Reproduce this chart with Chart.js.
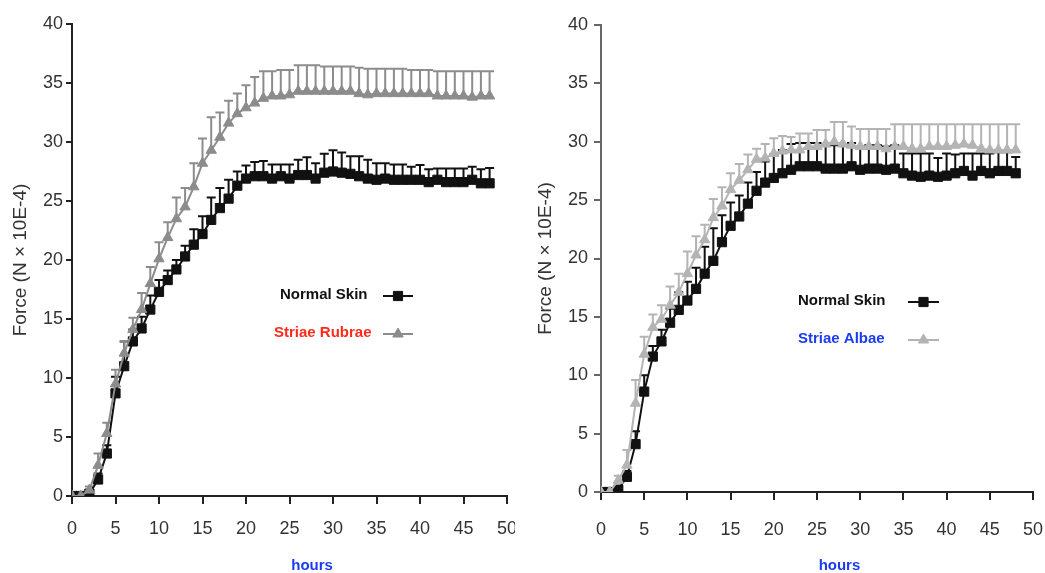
<!DOCTYPE html>
<html lang="en">
<head>
<meta charset="UTF-8">
<title>Force vs hours</title>
<script src="https://cdn.jsdelivr.net/npm/chart.js@4.4.1/dist/chart.umd.min.js"></script>
<style>
  body { margin: 0; background: #fff; }
  #leftBox { position: absolute; left: 0; top: 0; width: 515px; height: 573px; overflow: hidden; }
  #rightBox { position: absolute; left: 522px; top: 0; width: 523px; height: 573px; }
</style>
</head>
<body>
<div id="leftBox"><canvas id="leftChart" width="522" height="573"></canvas></div>
<div id="rightBox"><canvas id="rightChart" width="523" height="573"></canvas></div>

<script>
// data (hourly, 0-48 h)
const hours = [0,1,2,3,4,5,6,7,8,9,10,11,12,13,14,15,16,17,18,19,20,21,22,23,24,
  25,26,27,28,29,30,31,32,33,34,35,36,37,38,39,40,41,42,43,44,45,46,47,48];
const xTicks = [0,5,10,15,20,25,30,35,40,45,50];
const yTicks = [0,5,10,15,20,25,30,35,40];

// left panel
const normalLeft = [0,0,0.2,1.4,3.6,8.7,11.0,13.1,14.2,15.8,17.3,18.3,19.2,20.3,21.3,22.2,23.4,24.4,25.2,26.3,
  26.9,27.1,27.1,26.9,27.1,26.9,27.2,27.2,26.9,27.4,27.5,27.4,27.3,27.1,26.9,26.8,26.9,26.8,26.8,26.8,
  26.8,26.6,26.8,26.6,26.6,26.6,26.8,26.5,26.5];
const normalLeftErr = [0,0,0.3,0.5,0.7,1.4,2.1,1.0,1.0,1.2,1.0,0.8,0.8,0.9,1.3,1.5,1.9,1.7,1.6,1.2,
  1.1,1.2,1.3,1.2,1.0,1.2,1.3,1.5,1.3,1.6,1.8,1.7,1.5,1.7,1.6,1.4,1.3,1.3,1.3,1.1,
  1.25,1.1,0.95,1.15,1.15,1.15,1.1,1.2,1.3];
const rubrae = [0,0,0.5,2.6,5.3,9.5,12.1,14.1,15.8,18.0,20.1,21.9,23.5,24.5,26.2,28.2,29.3,30.4,31.6,32.4,
  32.9,33.3,33.7,33.9,33.9,34.0,34.3,34.3,34.3,34.3,34.3,34.3,34.3,34.1,34.0,34.1,34.1,34.1,34.1,34.1,
  34.1,34.1,33.9,33.9,33.9,33.9,33.8,33.9,33.9];
const rubraeErr = [0,0,0.3,1.0,0.9,1.2,1.0,1.0,1.4,1.4,1.4,1.3,1.8,1.6,2.0,2.1,2.8,2.1,1.9,1.7,
  1.9,2.2,2.3,2.1,2.2,2.1,2.2,2.2,2.2,2.1,2.1,2.1,2.1,2.2,2.2,2.1,2.1,2.1,2.1,2.0,
  2.0,2.0,2.1,2.1,2.1,2.1,2.2,2.1,2.1];

// right panel
const normalRight = [0,0,0.2,1.3,4.1,8.6,11.6,12.9,14.5,15.6,16.4,17.4,18.7,19.8,21.4,22.8,23.6,24.7,25.8,26.5,
  26.9,27.3,27.6,27.9,27.9,27.9,27.7,27.7,27.7,27.9,27.6,27.7,27.7,27.6,27.7,27.3,27.1,27.0,27.1,27.0,
  27.1,27.3,27.5,27.1,27.5,27.3,27.5,27.5,27.3];
const normalRightErr = [0,0,0.2,0.5,1.1,1.4,0.9,1.0,1.2,1.5,1.6,1.8,2.3,2.8,2.3,2.0,1.8,1.8,1.6,1.8,
  2.0,2.0,2.2,2.0,2.0,2.0,2.0,2.0,2.0,2.0,2.0,2.0,2.0,2.0,2.0,1.7,1.9,2.0,1.9,1.6,
  1.9,1.6,1.5,1.9,1.5,1.7,1.6,1.6,1.4];
const albae = [0,0,1.0,2.3,7.6,11.8,14.1,14.8,16.0,17.1,18.7,20.3,21.6,23.5,24.5,25.9,26.7,27.6,28.5,28.6,
  29.0,29.2,29.3,29.3,29.6,29.6,29.8,30.0,29.8,29.7,29.6,29.6,29.6,29.4,29.6,29.6,29.4,29.4,29.6,29.6,
  29.6,29.7,29.8,29.7,29.4,29.3,29.3,29.3,29.3];
const albaeErr = [0,0,0.4,1.3,2.0,1.5,1.1,1.2,1.6,1.6,1.9,1.6,1.3,1.6,1.6,1.4,1.4,1.3,0.9,1.2,
  1.3,1.3,1.1,1.4,1.1,1.4,1.2,1.7,1.9,1.6,1.5,1.5,1.5,1.7,1.9,1.9,2.1,2.1,1.9,1.9,
  1.9,1.8,1.7,1.8,2.1,2.2,2.2,2.2,2.2];

Chart.defaults.font.family = "'Liberation Sans', Arial, sans-serif";

function pts(vals) {
  return hours.map((h, i) => ({ x: h, y: vals[i] }));
}

// upper-only error bars with a cap
const errorBars = {
  id: 'errorBars',
  beforeDatasetsDraw(chart) {
    const ctx = chart.ctx;
    const ys = chart.scales.y;
    // black series bars first, grey ones over them
    const order = chart.data.datasets.map((d, i) => i).reverse();
    order.forEach(di => {
      const ds = chart.data.datasets[di];
      const meta = chart.getDatasetMeta(di);
      ctx.save();
      ctx.strokeStyle = ds.borderColor;
      ctx.lineWidth = 2;
      meta.data.forEach((p, i) => {
        const e = ds.errors[i];
        if (!e) return;
        const top = ys.getPixelForValue(ds.data[i].y + e);
        ctx.beginPath();
        ctx.moveTo(p.x, p.y);
        ctx.lineTo(p.x, top);
        ctx.moveTo(p.x - 4.5, top);
        ctx.lineTo(p.x + 4.5, top);
        ctx.stroke();
      });
      ctx.restore();
    });
  }
};

// in-plot legend and the blue "hours" caption
const extras = {
  id: 'extras',
  afterDraw(chart, args, opts) {
    const ctx = chart.ctx;
    const a = chart.chartArea;
    ctx.save();
    opts.items.forEach(it => {
      ctx.font = "bold 15px 'Liberation Sans', Arial, sans-serif";
      ctx.fillStyle = it.textColor;
      ctx.textBaseline = 'middle';
      ctx.textAlign = 'left';
      ctx.fillText(it.text, a.left + it.tx, it.ty);
      const x0 = a.left + opts.lineFrom, x1 = a.left + opts.lineTo, ly = it.ty + 1;
      ctx.strokeStyle = it.color;
      ctx.fillStyle = it.color;
      ctx.lineWidth = 2;
      ctx.beginPath();
      ctx.moveTo(x0, ly);
      ctx.lineTo(x1, ly);
      ctx.stroke();
      ctx.lineWidth = 1;
      Chart.helpers.drawPoint(ctx, { pointStyle: it.style, radius: it.radius, borderWidth: 1 },
        (x0 + x1) / 2, ly);
    });
    ctx.font = "bold 15px 'Liberation Sans', Arial, sans-serif";
    ctx.fillStyle = '#1b3cf2';
    ctx.textAlign = 'center';
    ctx.textBaseline = 'middle';
    ctx.fillText('hours', chart.scales.x.getPixelForValue(27.6), 566);
    ctx.restore();
  }
};

function makeChart(id, cfg) {
  const ctx = document.getElementById(id).getContext('2d');
  return new Chart(ctx, {
    type: 'line',
    data: {
      datasets: [{
        label: cfg.greyLabel,
        data: pts(cfg.grey),
        errors: cfg.greyErr,
        borderColor: cfg.greyColor,
        backgroundColor: cfg.greyColor,
        borderWidth: 2,
        pointStyle: 'triangle',
        pointRadius: 6,
        pointBorderWidth: 1,
        tension: 0
      }, {
        label: 'Normal Skin',
        data: pts(cfg.black),
        errors: cfg.blackErr,
        borderColor: '#111',
        backgroundColor: '#111',
        borderWidth: 2,
        pointStyle: 'rect',
        pointRadius: 6.5,
        pointBorderWidth: 1,
        tension: 0
      }]
    },
    options: {
      responsive: false,
      animation: false,
      devicePixelRatio: 1,
      layout: { padding: { top: cfg.padTop, right: cfg.padRight, left: 0, bottom: 0 } },
      plugins: {
        legend: { display: false },
        tooltip: { enabled: false },
        extras: cfg.legend
      },
      scales: {
        x: {
          type: 'linear',
          min: 0,
          max: 50,
          afterBuildTicks: s => { s.ticks = xTicks.map(v => ({ value: v })); },
          afterFit: s => { s.height = cfg.xHeight; s.paddingLeft = 0; s.paddingRight = 0; },
          ticks: { color: '#333', font: { size: 18 }, padding: cfg.xPad, maxRotation: 0 },
          grid: { drawOnChartArea: false, tickLength: 8, color: '#222', lineWidth: 2 },
          border: { color: '#222', width: 2 }
        },
        y: {
          min: 0,
          max: 40,
          afterBuildTicks: s => { s.ticks = yTicks.map(v => ({ value: v })); },
          afterFit: s => { s.width = cfg.yWidth; s.paddingTop = 0; s.paddingBottom = 0; },
          ticks: { color: '#333', font: { size: 18 }, padding: cfg.yPad },
          grid: { drawOnChartArea: false, tickLength: cfg.yTick, color: cfg.yAxisColor, lineWidth: 2 },
          border: { color: cfg.yAxisColor, width: 2 },
          title: {
            display: true,
            text: 'Force (N × 10E-4)',
            color: '#333',
            font: { size: 19 },
            padding: { top: cfg.titlePad, bottom: 0 }
          }
        }
      }
    },
    plugins: [errorBars, extras]
  });
}

makeChart('leftChart', {
  grey: rubrae, greyErr: rubraeErr, greyColor: '#8c8c8c', greyLabel: 'Striae Rubrae',
  black: normalLeft, blackErr: normalLeftErr,
  padTop: 24, padRight: 15, xHeight: 77, yWidth: 72, xPad: 14, yPad: 3, yTick: 6,
  yAxisColor: '#222', titlePad: 9,
  legend: {
    lineFrom: 311, lineTo: 341,
    items: [
      { text: 'Normal Skin', textColor: '#111', tx: 208, ty: 295, color: '#111', style: 'rect', radius: 6.5 },
      { text: 'Striae Rubrae', textColor: '#ff2a1a', tx: 202, ty: 333, color: '#8c8c8c', style: 'triangle', radius: 6 }
    ]
  }
});

makeChart('rightChart', {
  grey: albae, greyErr: albaeErr, greyColor: '#b4b4b4', greyLabel: 'Striae Albae',
  black: normalRight, blackErr: normalRightErr,
  padTop: 25, padRight: 12, xHeight: 81, yWidth: 79, xPad: 19, yPad: 6, yTick: 7,
  yAxisColor: '#666', titlePad: 12,
  legend: {
    lineFrom: 307, lineTo: 338,
    items: [
      { text: 'Normal Skin', textColor: '#111', tx: 197, ty: 301, color: '#111', style: 'rect', radius: 6.5 },
      { text: 'Striae Albae', textColor: '#1b3cf2', tx: 197, ty: 339, color: '#b4b4b4', style: 'triangle', radius: 6 }
    ]
  }
});
</script>
</body>
</html>
